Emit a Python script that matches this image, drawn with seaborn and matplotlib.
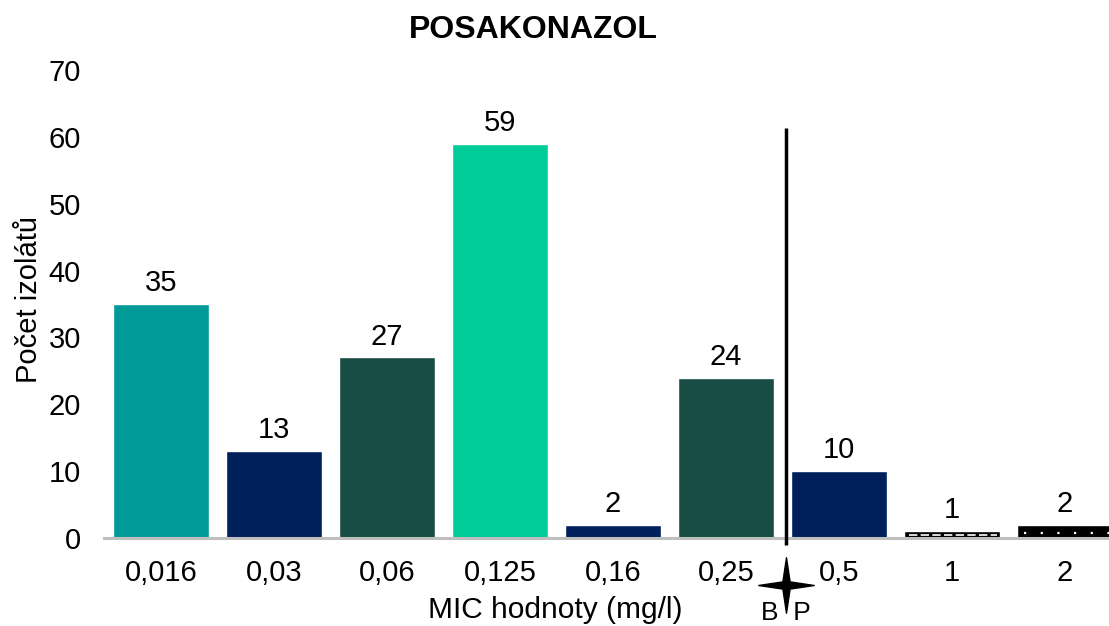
import matplotlib
matplotlib.use("Agg")
import matplotlib.pyplot as plt
import seaborn as sns
import pandas as pd
from matplotlib.path import Path
import matplotlib.transforms as mtransforms

sns.set_style("white")
plt.rcParams['font.family'] = ['Liberation Sans', 'DejaVu Sans']
plt.rcParams['text.color'] = 'black'
plt.rcParams['axes.labelcolor'] = 'black'

# data
mic = ['0,016', '0,03', '0,06', '0,125', '0,16', '0,25', '0,5', '1', '2']
counts = [35, 13, 27, 59, 2, 24, 10, 1, 2]
colors = ['#009A97', '#00205C', '#174D44', '#00CC99', '#00205C',
          '#174D44', '#00205C', '#000000', '#000000']
pattern = [None, None, None, None, None, None, None, 'dash', 'dot']
bp_pos = 5.53         # breakpoint between 0,25 and 0,5
bp_top = 61.3

df = pd.DataFrame({'mic': mic, 'count': counts})

fig = plt.figure(figsize=(11.09, 6.26), dpi=100)
ax = fig.add_axes([0.0942, 0.1406, 0.917, 0.7476])

sns.barplot(data=df, x='mic', y='count', hue='mic', palette=colors,
            saturation=1, width=0.85, legend=False, ax=ax)

for cont in ax.containers:
    ax.bar_label(cont, fontsize=21, padding=5, color='black')

# white dash / dot patterns on the last two bars
for i, (c, p) in enumerate(zip(counts, pattern)):
    if p == 'dash':
        ax.hlines(c / 2, i - 0.38, i + 0.40, colors='white', lw=1.2,
                  linestyles=(0, (5, 2)), zorder=5)
    elif p == 'dot':
        ax.hlines(c * 0.4, i - 0.36, i + 0.42, colors='white', lw=1.6,
                  linestyles=(0, (1, 6.5)), zorder=5)

ax.set_xlim(-0.5, 8.5)
ax.set_ylim(0, 70)
ax.set_yticks(range(0, 71, 10))
ax.tick_params(axis='both', length=0, labelsize=21, colors='black')
ax.tick_params(axis='y', pad=17)
ax.tick_params(axis='x', pad=15)

for s in ['top', 'right', 'left']:
    ax.spines[s].set_visible(False)
ax.spines['bottom'].set_color('#BFBFBF')
ax.spines['bottom'].set_linewidth(2.2)

ax.set_xlabel('MIC hodnoty (mg/l)', fontsize=21.5)
ax.xaxis.set_label_coords(0.443, -0.125)
ax.set_ylabel('Počet izolátů', fontsize=21)
ax.yaxis.set_label_coords(-0.060, 0.51)

# breakpoint line
ax.vlines(bp_pos, -1, bp_top, colors='black', lw=2.5, clip_on=False, zorder=6)

# four-pointed star marker
k = 0.13
star = Path([(0, 1), (k, k), (1, 0), (k, -k), (0, -1), (-k, -k), (-1, 0), (-k, k), (0, 1)],
            [Path.MOVETO] + [Path.LINETO] * 7 + [Path.CLOSEPOLY])
trans = mtransforms.blended_transform_factory(ax.transData, ax.transAxes)
ax.plot([bp_pos], [-0.1], marker=star, markersize=40, color='black',
        transform=trans, clip_on=False)
ax.text(bp_pos, -0.16, 'B  P', transform=trans, ha='center', va='center',
        fontsize=19)

fig.text(0.481, 0.952, 'POSAKONAZOL', ha='center', va='center',
         fontsize=23, fontweight='bold')

fig.savefig('out.png', dpi=100)
